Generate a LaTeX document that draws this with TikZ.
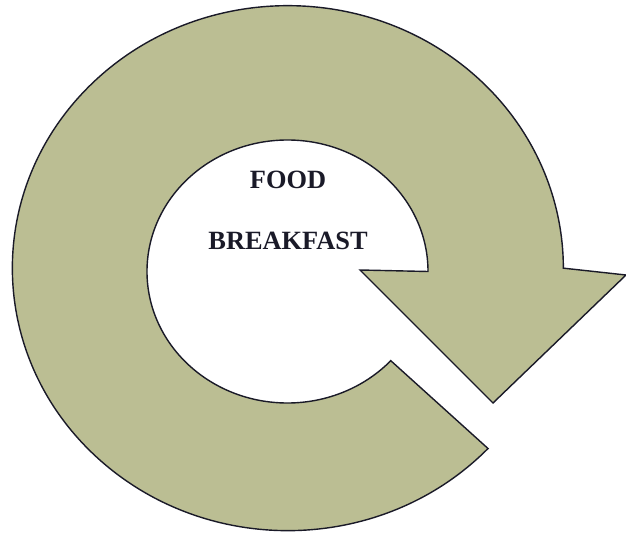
\documentclass[tikz,border=0pt]{standalone}
\usepackage{fontspec}
\setmainfont{Liberation Serif}
\definecolor{verdeoliva}{RGB}{187,190,147}
\definecolor{tinta}{RGB}{26,26,40}
\begin{document}
\begin{tikzpicture}[x=0.2mm, y=0.2mm] %Início do desenho, unidade em pixels
	\useasboundingbox (0,0) rectangle (626,533); %Moldura
		%Seta circular
	\draw[fill=verdeoliva, draw=tinta, line width=0.8pt, line join=miter]
		(360,263) -- (428,261.5) %Base da ponta, lado interno
		arc[start angle=0, end angle=317.3, x radius=140.5, y radius=131.5] %Borda interna
		-- (488,84.5) %Corte da cauda
		arc[start angle=316.6, end angle=0, x radius=275.5, y radius=262.5] %Borda externa
		-- (626,258) -- (493,130) -- cycle; %Ponta da seta
		%Textos
	\node[text=tinta, font=\fontsize{15}{18}\selectfont\bfseries] (comida) at (288,353) {FOOD};
	\node[text=tinta, font=\fontsize{15}{18}\selectfont\bfseries] (cafe) at (288,292) {BREAKFAST};
\end{tikzpicture}
\end{document}
